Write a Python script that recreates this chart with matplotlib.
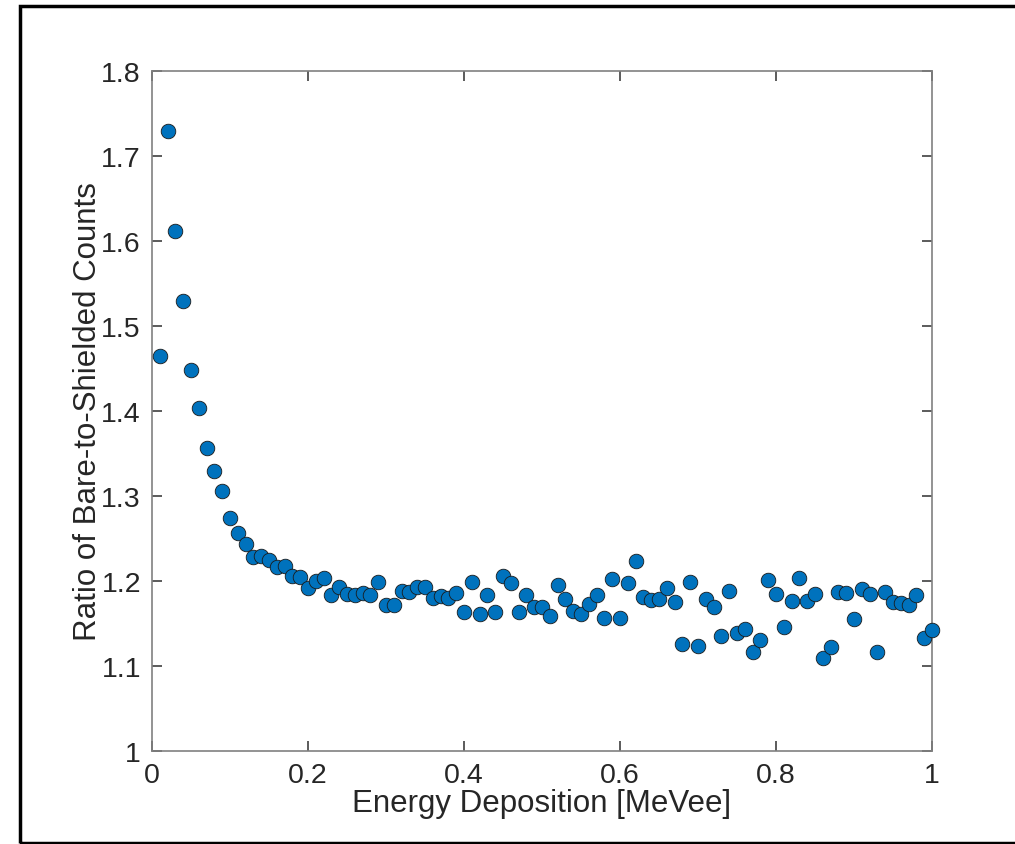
import numpy as np
import matplotlib.pyplot as plt
from matplotlib.patches import Rectangle

# energy bins (MeVee) and measured bare/shielded ratio
energy = np.round(np.arange(1, 101) * 0.01, 2)
ratio = [1.465, 1.730, 1.612, 1.530, 1.448, 1.403, 1.357, 1.330, 1.306, 1.274,
         1.256, 1.243, 1.228, 1.229, 1.225, 1.217, 1.218, 1.206, 1.205, 1.192,
         1.200, 1.203, 1.184, 1.193, 1.185, 1.184, 1.186, 1.183, 1.199, 1.172,
         1.172, 1.188, 1.187, 1.193, 1.193, 1.180, 1.182, 1.180, 1.186, 1.163,
         1.199, 1.161, 1.183, 1.163, 1.206, 1.198, 1.163, 1.184, 1.170, 1.169,
         1.159, 1.195, 1.179, 1.165, 1.161, 1.173, 1.183, 1.157, 1.202, 1.157,
         1.198, 1.223, 1.181, 1.178, 1.179, 1.192, 1.175, 1.126, 1.199, 1.123,
         1.179, 1.169, 1.135, 1.188, 1.139, 1.143, 1.116, 1.131, 1.201, 1.185,
         1.146, 1.177, 1.203, 1.177, 1.185, 1.109, 1.122, 1.187, 1.186, 1.155,
         1.191, 1.185, 1.116, 1.187, 1.175, 1.174, 1.172, 1.183, 1.133, 1.142]

xticks = [0, 0.2, 0.4, 0.6, 0.8, 1]
xticklabels = ["0", "0.2", "0.4", "0.6", "0.8", "1"]
yticks = [1, 1.1, 1.2, 1.3, 1.4, 1.5, 1.6, 1.7, 1.8]
yticklabels = ["1", "1.1", "1.2", "1.3", "1.4", "1.5", "1.6", "1.7", "1.8"]

plt.rcParams['font.family'] = ['Liberation Sans', 'DejaVu Sans']

W, H = 1015, 845
fig = plt.figure(figsize=(W / 100, H / 100), dpi=100)
ax = fig.add_axes([152 / W, 1 - 752 / H, (932 - 152) / W, (752 - 72) / H])

ax.scatter(energy, ratio, s=110, color='#0072BD', edgecolors='#1a1a1a',
           linewidths=0.6, zorder=3, clip_on=False)

ax.set_xlim(0, 1)
ax.set_ylim(1, 1.8)
ax.set_xticks(xticks)
ax.set_xticklabels(xticklabels)
ax.set_yticks(yticks)
ax.set_yticklabels(yticklabels)

for s in ax.spines.values():
    s.set_color('#808080')
    s.set_linewidth(1.2)
ax.tick_params(direction='in', length=7, width=1.2, color='#404040',
               top=True, right=True, labelsize=20.5, labelcolor='#262626')
ax.tick_params(axis='x', pad=8)
ax.tick_params(axis='y', pad=8)

ax.set_xlabel("Energy Deposition [MeVee]", fontsize=22.5, color='#262626', labelpad=0)
ax.set_ylabel("Ratio of Bare-to-Shielded Counts", fontsize=22.5, color='#262626', labelpad=-1)

# black frame around the figure
fig.patches.append(Rectangle((20 / W, 1 / H), 1.2, (H - 8) / H,
                             transform=fig.transFigure, fill=False,
                             edgecolor='black', linewidth=2.5))

fig.savefig("out.png", dpi=100)
